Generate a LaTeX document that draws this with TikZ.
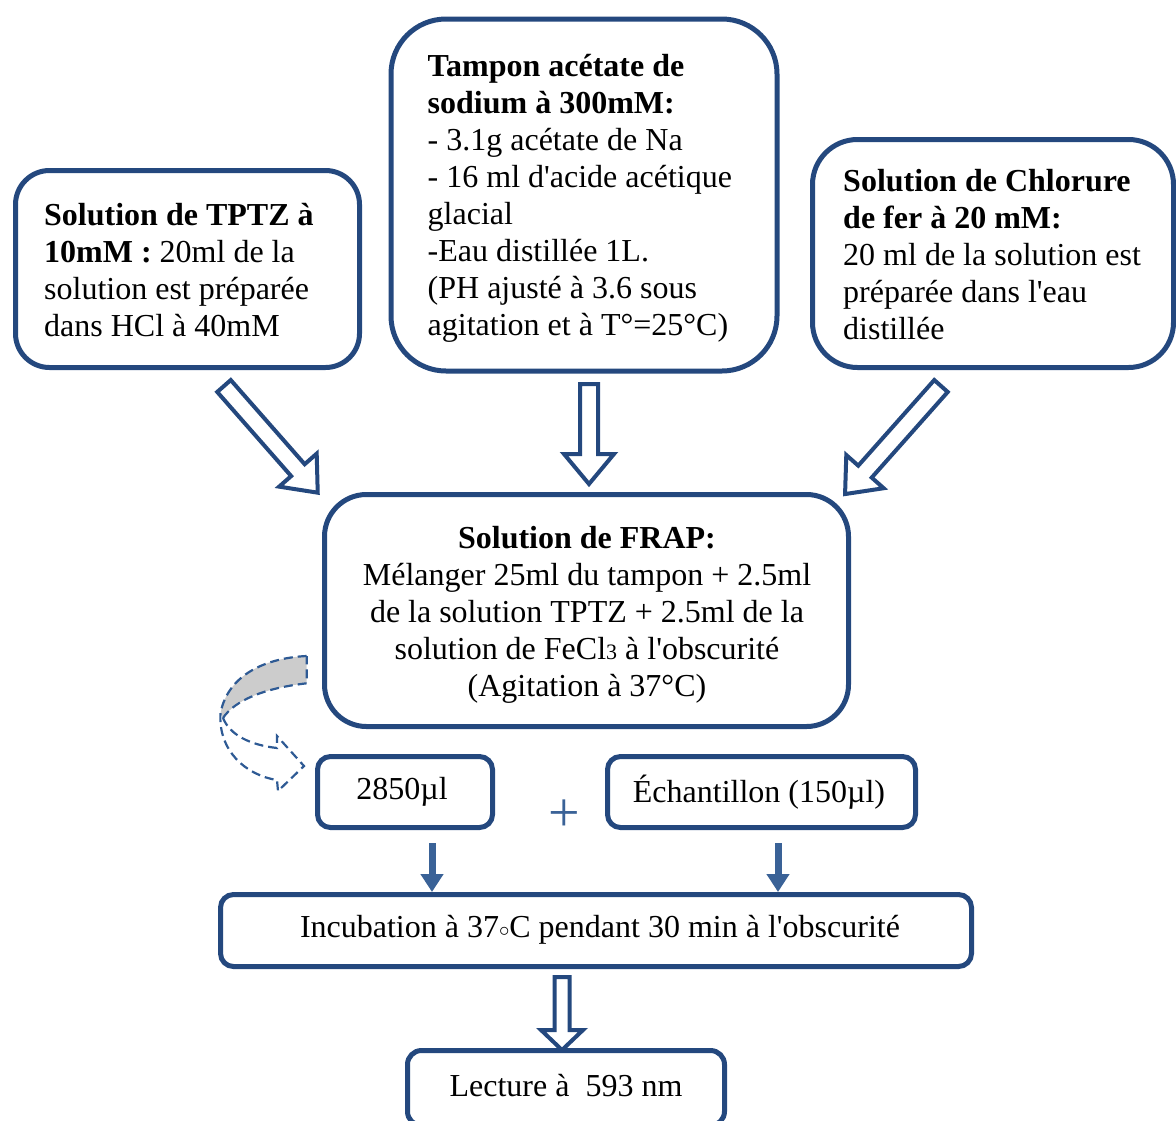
\documentclass[tikz,border=0pt]{standalone}
\usepackage{fontspec}
\setmainfont{Liberation Serif}[Ligatures=TeXOff]
\usetikzlibrary{arrows.meta,calc}
\definecolor{boxblue}{HTML}{24487E}
\definecolor{midblue}{HTML}{3A6297}
\definecolor{dashblue}{HTML}{2E5A94}
\definecolor{bandgray}{HTML}{CCCCCC}
\newcommand\hollowarrow[6]{%
  \begin{scope}[shift={(#1)}, rotate=#2]
    \draw[harrow] (0,-#4) -- ({#3-#6},-#4) -- ({#3-#6},-#5) -- (#3,0)
      -- ({#3-#6},#5) -- ({#3-#6},#4) -- (0,#4) -- cycle;
  \end{scope}}
\begin{document}
\begin{tikzpicture}[x=1pt,y=-1pt,
  box/.style={draw=boxblue, line width=5pt, rounded corners=#1, fill=white, inner sep=0pt},
  box/.default=35pt,
  txt/.style={font=\fontsize{32}{37}\selectfont, inner sep=0pt, text=black},
  harrow/.style={draw=boxblue, line width=4pt, fill=white, line join=miter},
  solidarrow/.style={draw=midblue, line width=7pt, -{Triangle[width=22pt,length=18pt]}},
  dasharrow/.style={draw=dashblue, line width=2.2pt, dash pattern=on 9pt off 5pt}]
\useasboundingbox (0,0) rectangle (1176,1120);
\clip (0,0) rectangle (1176,1120);

% --- top boxes ---
\node[box=34pt, minimum width=344pt, minimum height=197pt] (tptz) at (187.5,269) {};
\node[txt, anchor=west, align=left] (tptzt) at ([xshift=31pt,yshift=-1pt]tptz.west)
  {\textbf{Solution de TPTZ à}\\\textbf{10mM :} 20ml de la\\solution est préparée\\dans HCl à 40mM};

\node[box=55pt, minimum width=386pt, minimum height=352pt] (tampon) at (584,195) {};
\node[txt, anchor=west, align=left] (tampont) at ([xshift=39pt,yshift=-3pt]tampon.west)
  {\textbf{Tampon acétate de}\\\textbf{sodium à 300mM:}\\- 3.1g acétate de Na\\- 16 ml d'acide acétique\\glacial\\-Eau distillée 1L.\\(PH ajusté à 3.6 sous\\agitation et à T°=25°C)};

\node[box=45pt, minimum width=361pt, minimum height=228pt] (chlor) at (993,253.5) {};
\node[txt, anchor=west, align=left] (chlort) at ([xshift=33pt,yshift=-1pt]chlor.west)
  {\textbf{Solution de Chlorure}\\\textbf{de fer à 20 mM:}\\20 ml de la solution est\\préparée dans l'eau\\distillée};

% --- FRAP box ---
\node[box=42pt, minimum width=524pt, minimum height=232pt] (frap) at (586.5,610.5) {};
\node[txt, align=center] (frapt) at (587,615)
  {\textbf{Solution de FRAP:}\\Mélanger 25ml du tampon + 2.5ml\\de la solution TPTZ + 2.5ml de la\\solution de FeCl{\fontsize{22}{22}\selectfont 3} à l'obscurité\\(Agitation à 37°C)};

% --- hollow arrows ---
\coordinate (a1) at (224,386);
\coordinate (a2) at (589,384);
\coordinate (a3) at (941,386);
\coordinate (a4) at (562,977);
\hollowarrow{a1}{-48.7}{142}{9}{25}{30}
\hollowarrow{a2}{-90}{100}{9}{25}{30}
\hollowarrow{a3}{-131.6}{144.5}{9}{25}{30}

% --- second row ---
\node[box=13pt, minimum width=175pt, minimum height=71pt] (s2850) at (405,792) {};
\node[txt] (s2850t) at (402,792) {2850µl};
\node[txt, text=midblue, font=\fontsize{56}{56}\selectfont] (plus) at (564,816) {+};
\node[box=13pt, minimum width=308pt, minimum height=71pt] (echant) at (761.5,792) {};
\node[txt] (echantt) at (759,792) {Échantillon (150µl)};

\node[box=13pt, minimum width=751pt, minimum height=72pt] (incub) at (596,930.5) {};
\node[txt] (incubt) at (600,930)
  {Incubation à 37{\raisebox{1pt}{$\scriptstyle\circ$}}C pendant 30 min à l'obscurité};

\coordinate (c1) at (432,843);
\coordinate (c2) at (778,843);
\draw[solidarrow] (c1) -- (c1 |- incub.north);
\draw[solidarrow] (c2) -- (c2 |- incub.north);

\hollowarrow{a4}{-90}{73}{7.5}{21}{20}

\node[box=14pt, minimum width=317pt, minimum height=75pt] (lect) at (566,1088) {};
\node[txt] (lectt) at (566,1086) {Lecture à~~593 nm};

% --- curved dashed arrow ---
\path[fill=bandgray] (306.7,656) .. controls (265,658) and (228,675) .. (220.5,713)
  -- (223,718) .. controls (235,700) and (265,688) .. (306.7,683.3) -- cycle;
\draw[dasharrow] (306.7,656) .. controls (265,658) and (228,675) .. (220.5,713)
  .. controls (218,750) and (245,775) .. (277,780) -- (278,791) -- (304,766)
  -- (277,736) -- (277,748) .. controls (250,745) and (230,735) .. (223,718);
\draw[dasharrow] (223,718) .. controls (235,700) and (265,688) .. (306.7,683.3) -- (306.7,656);
\end{tikzpicture}
\end{document}
